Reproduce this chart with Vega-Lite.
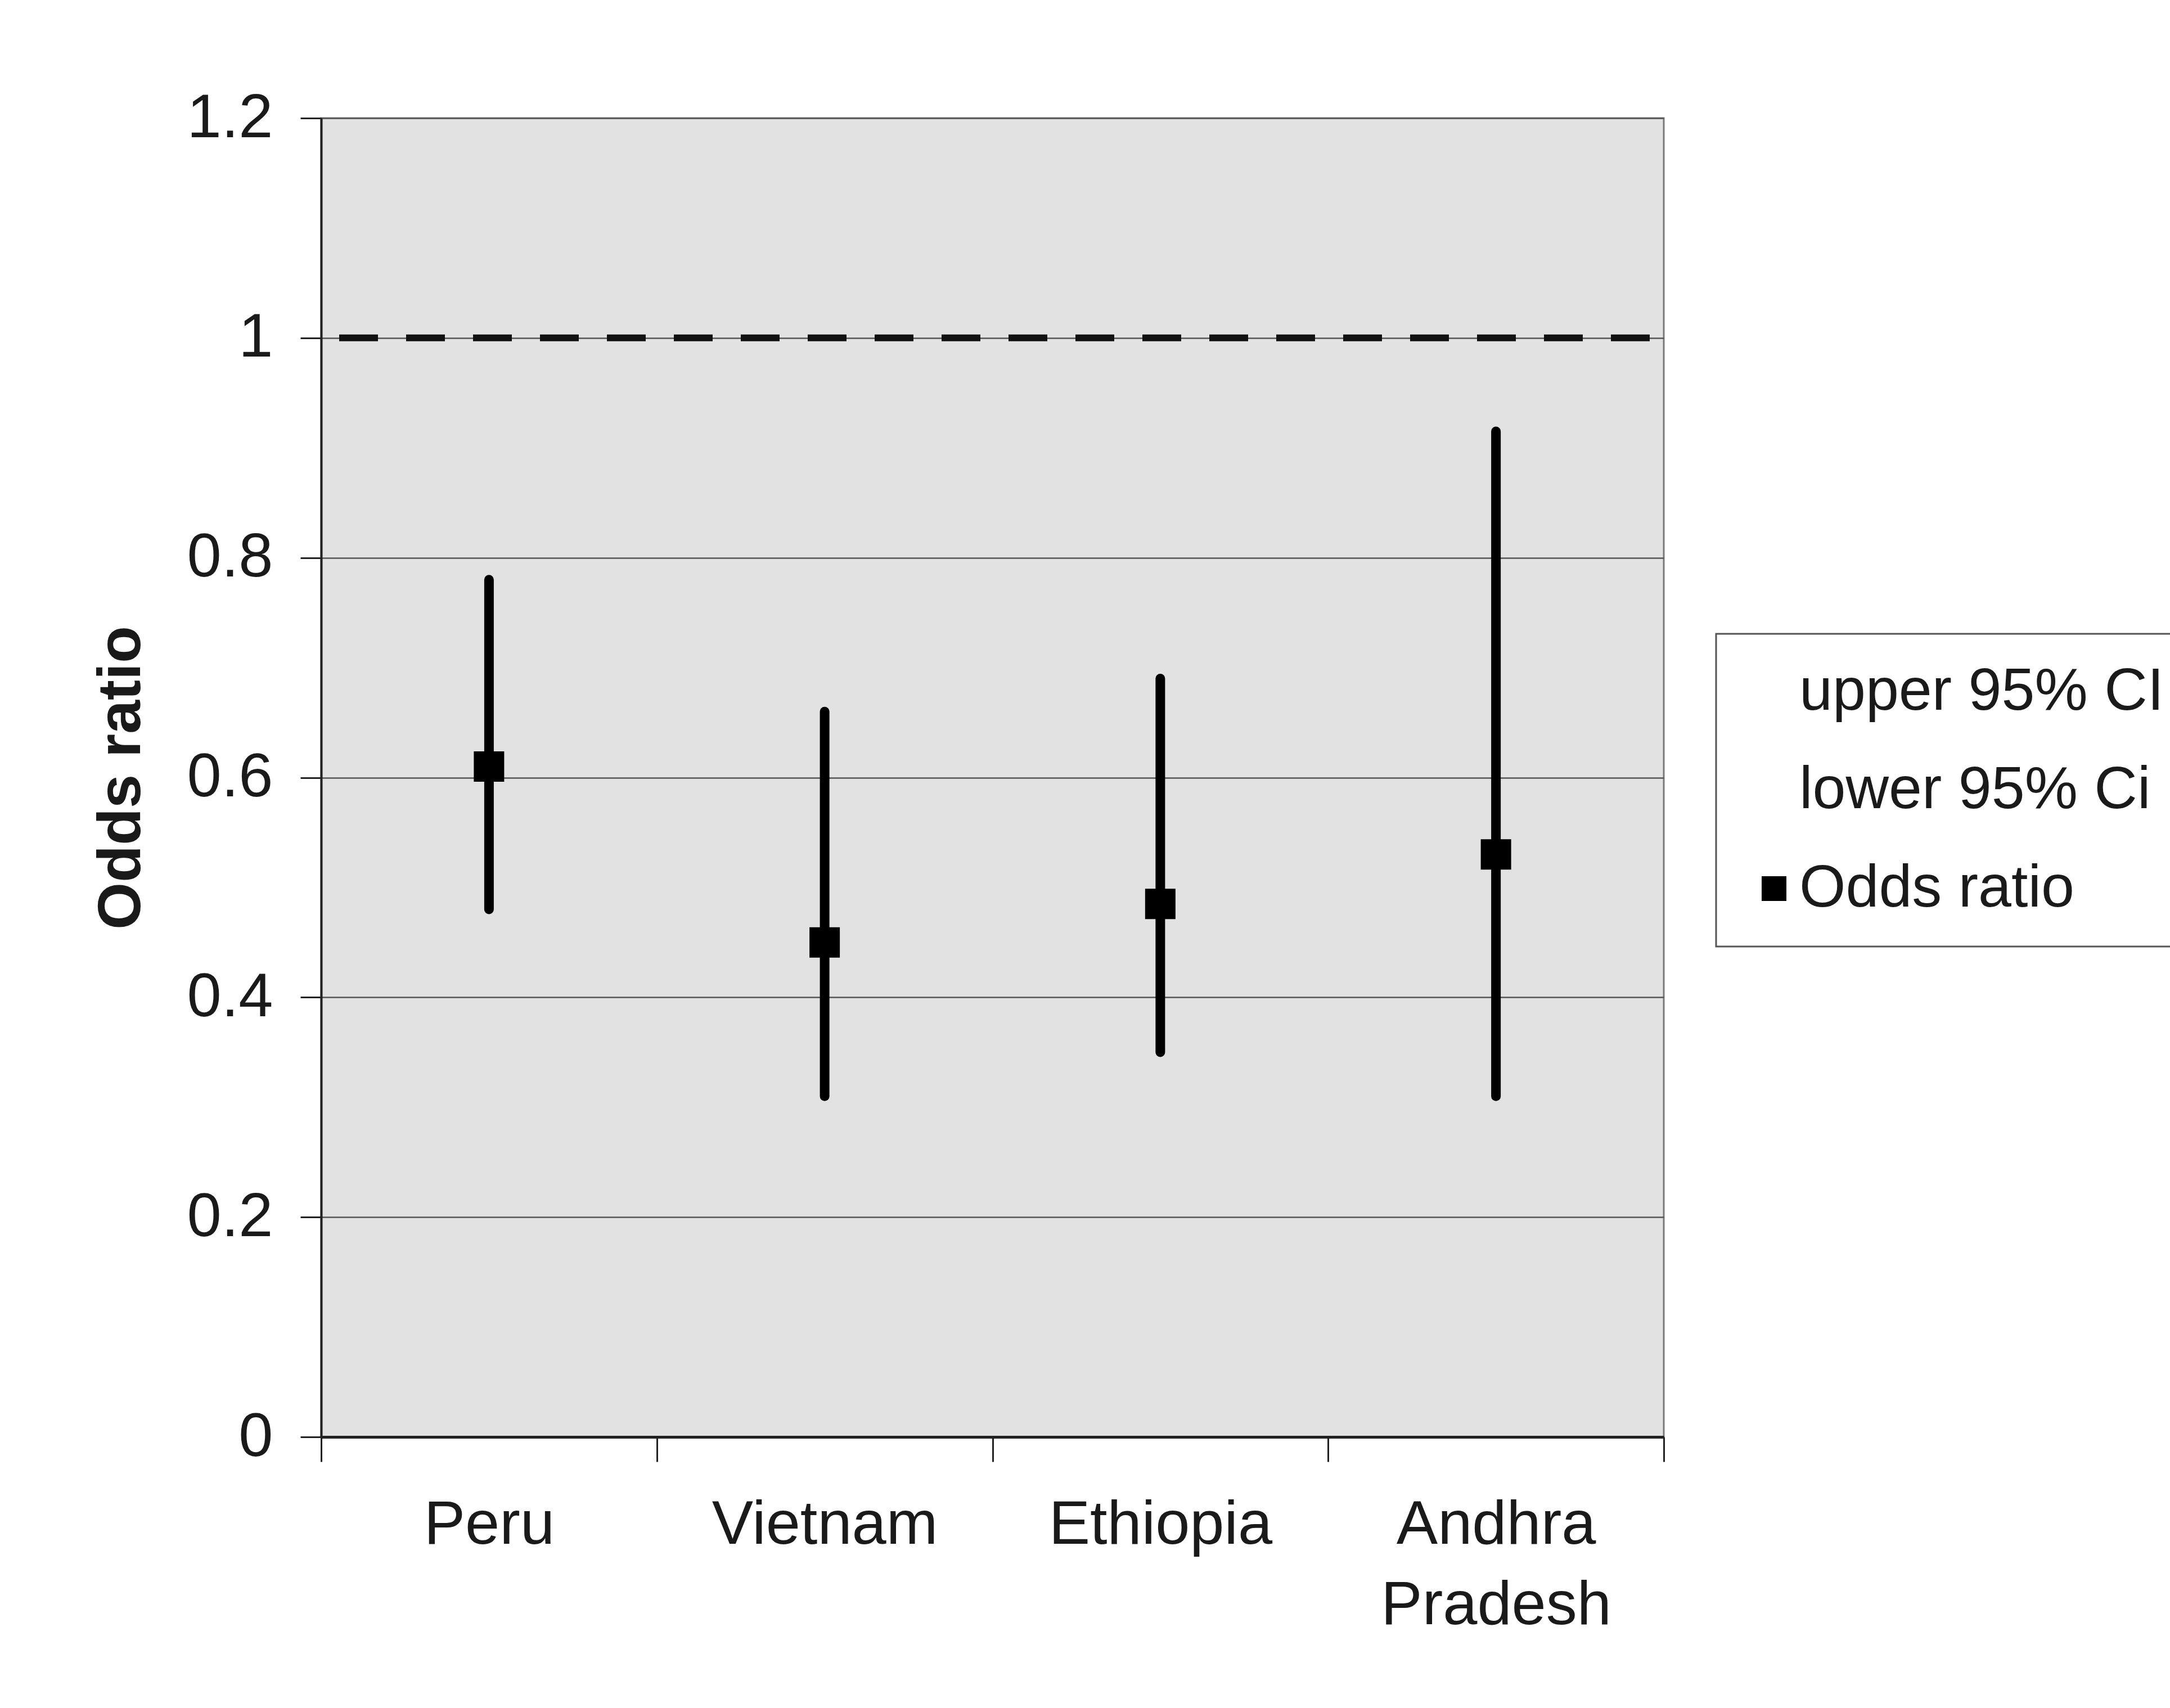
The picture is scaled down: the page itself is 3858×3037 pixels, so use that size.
{
  "$schema": "https://vega.github.io/schema/vega-lite/v6.json",
  "width": 2387,
  "height": 2345,
  "autosize": {"type": "none"},
  "padding": {"left": 571, "top": 210, "right": 900, "bottom": 482},
  "background": "#ffffff",
  "config": {
    "font": "Liberation Sans",
    "view": {"fill": "#e2e2e2", "stroke": "#7a7a7a", "strokeWidth": 3},
    "legend": {"strokeWidth": 3}
  },
  "datasets": {
    "or": [
      {"country": "Peru", "upper": 0.78, "lower": 0.48, "odds": 0.61},
      {"country": "Vietnam", "upper": 0.66, "lower": 0.31, "odds": 0.45},
      {"country": "Ethiopia", "upper": 0.69, "lower": 0.35, "odds": 0.485},
      {"country": "Andhra Pradesh", "upper": 0.915, "lower": 0.31, "odds": 0.53}
    ],
    "ref": [{"ref": 1}]
  },
  "layer": [
    {
      "data": {"name": "or"},
      "mark": {"type": "rule", "color": "#000000", "strokeWidth": 17, "strokeCap": "round"},
      "encoding": {
        "x": {
          "field": "country", "type": "nominal", "sort": null,
          "scale": {"type": "band", "domain": ["Peru", "Vietnam", "Ethiopia", "Andhra Pradesh"], "paddingInner": 0, "paddingOuter": 0},
          "axis": {
            "title": null, "labelAngle": 0, "tickBand": "extent", "grid": false,
            "domainColor": "#222222", "domainWidth": 5, "tickColor": "#222222", "tickWidth": 3, "tickSize": 44,
            "labelPadding": 58, "labelFontSize": 110, "labelColor": "#1a1a1a", "labelFont": "Liberation Sans",
            "labelLineHeight": 143, "labelBaseline": "top", "labelLimit": 3000,
            "labelExpr": "datum.value == 'Andhra Pradesh' ? ['Andhra', 'Pradesh'] : datum.value"
          }
        },
        "y": {
          "field": "lower", "type": "quantitative",
          "scale": {"domain": [0, 1.2], "nice": false, "zero": true},
          "title": "Odds ratio",
          "axis": {
            "values": [0, 0.2, 0.4, 0.6, 0.8, 1, 1.2], "format": "~g",
            "grid": true, "gridColor": "#555555", "gridWidth": 2.5,
            "domainColor": "#222222", "domainWidth": 4, "tickColor": "#222222", "tickWidth": 3, "tickSize": 37,
            "labelPadding": 49, "labelFontSize": 110, "labelColor": "#1a1a1a", "labelFont": "Liberation Sans", "labelLimit": 3000,
            "titleFontSize": 108, "titleFontWeight": "bold", "titleColor": "#1a1a1a", "titleFont": "Liberation Sans", "titlePadding": 100, "titleLimit": 3000
          }
        },
        "y2": {"field": "upper"}
      }
    },
    {
      "data": {"name": "or"},
      "transform": [{"fold": ["upper", "lower", "odds"], "as": ["series", "value"]}],
      "mark": {"type": "point", "shape": "square", "filled": true, "size": 2916, "opacity": 1},
      "encoding": {
        "x": {
          "field": "country", "type": "nominal", "sort": null,
          "scale": {"type": "band", "domain": ["Peru", "Vietnam", "Ethiopia", "Andhra Pradesh"], "paddingInner": 0, "paddingOuter": 0}
        },
        "y": {"field": "value", "type": "quantitative", "title": "Odds ratio"},
        "color": {
          "field": "series", "type": "nominal",
          "scale": {"domain": ["upper", "lower", "odds"], "range": ["transparent", "transparent", "#000000"]},
          "legend": {
            "orient": "none", "legendX": 2480, "legendY": 917, "title": null,
            "labelFontSize": 106, "labelColor": "#1a1a1a", "labelFont": "Liberation Sans", "labelLimit": 3000,
            "symbolType": "square", "symbolSize": 1936, "symbolStrokeWidth": 0,
            "labelOffset": -8, "rowPadding": 69, "padding": 50,
            "strokeColor": "#555555", "fillColor": "#ffffff",
            "labelExpr": "datum.value == 'upper' ? 'upper 95% CI' : datum.value == 'lower' ? 'lower 95% Ci' : 'Odds ratio'"
          }
        }
      }
    },
    {
      "data": {"name": "ref"},
      "mark": {"type": "rule", "color": "#111111", "strokeWidth": 12, "strokeDash": [69, 50], "strokeDashOffset": 94},
      "encoding": {
        "y": {"field": "ref", "type": "quantitative", "title": "Odds ratio"}
      }
    }
  ]
}
